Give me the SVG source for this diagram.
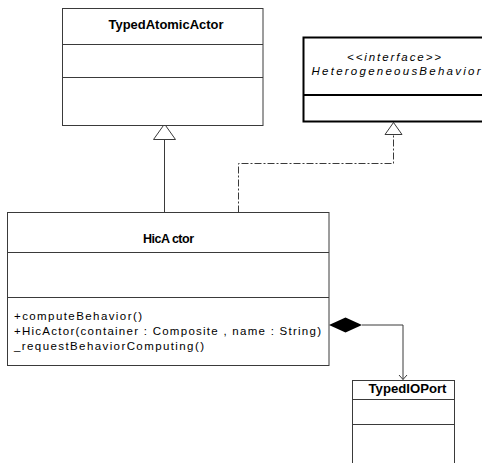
<svg xmlns="http://www.w3.org/2000/svg" width="482" height="463" viewBox="0 0 482 463">
  <style>
    .box { fill: #ffffff; stroke: #3a3a3a; stroke-width: 1; }
    .box-thick { fill: #ffffff; stroke: #000000; stroke-width: 2; }
    .sep { stroke: #3a3a3a; stroke-width: 1; fill: none; }
    .sep-thick { stroke: #000000; stroke-width: 2; fill: none; }
    .title { font-family: "Liberation Sans", Arial, sans-serif; font-size: 12.5px; font-weight: bold; fill: #000000; text-anchor: middle; }
    .stereo { font-family: "Liberation Sans", Arial, sans-serif; font-size: 11.5px; font-style: italic; fill: #000000; text-anchor: middle; }
    .member { font-family: "Liberation Sans", Arial, sans-serif; font-size: 11.5px; fill: #000000; }
    .edge { stroke: #3a3a3a; stroke-width: 1; fill: none; }
    .dashdot { stroke: #3a3a3a; stroke-width: 1; fill: none; stroke-dasharray: 7 2 2 2; }
    .hollow { fill: #ffffff; stroke: #3a3a3a; stroke-width: 1; }
  </style>

  <!-- Connectors -->
  <g id="connectors">
    <!-- HicActor extends TypedAtomicActor -->
    <g id="gen-hic-typedatomic">
      <line class="edge" x1="164.5" y1="139.5" x2="164.5" y2="212.5"/>
      <polygon class="hollow" points="164.5,124 153.5,139.5 175.5,139.5"/>
    </g>
    <!-- HicActor realizes HeterogeneousBehavior -->
    <g id="real-hic-hetero">
      <polyline class="dashdot" points="238.5,212.5 238.5,163.5 393.5,163.5 393.5,134.5"/>
      <polygon class="hollow" points="393.5,122.5 385,134.5 402,134.5"/>
    </g>
    <!-- HicActor composes TypedIOPort -->
    <g id="comp-hic-port">
      <polygon points="329,325 345.5,317.5 362,325 345.5,332.5" fill="#000000"/>
      <polyline class="edge" points="362,325 403,325 403,379.5"/>
      <polyline class="edge" points="399,375 403,379.5 407,375"/>
    </g>
  </g>

  <!-- TypedAtomicActor -->
  <g id="TypedAtomicActor">
    <rect class="box" x="62.5" y="8.5" width="200.5" height="117"/>
    <line class="sep" x1="62.5" y1="44.5" x2="263" y2="44.5"/>
    <line class="sep" x1="62.5" y1="77.5" x2="263" y2="77.5"/>
    <text class="title" x="166" y="29" textLength="115" lengthAdjust="spacingAndGlyphs">TypedAtomicActor</text>
  </g>

  <!-- HeterogeneousBehavior interface -->
  <g id="HeterogeneousBehavior">
    <rect class="box-thick" x="303.5" y="37.5" width="182" height="84"/>
    <line class="sep-thick" x1="303.5" y1="95" x2="485.5" y2="95"/>
    <text class="stereo" x="394" y="61" textLength="94" lengthAdjust="spacing">&lt;&lt;interface&gt;&gt;</text>
    <text class="stereo" x="396" y="75" textLength="169" lengthAdjust="spacing">HeterogeneousBehavior</text>
  </g>

  <!-- HicActor -->
  <g id="HicActor">
    <rect class="box" x="7.5" y="212.5" width="321.5" height="153"/>
    <line class="sep" x1="7.5" y1="252.5" x2="329" y2="252.5"/>
    <line class="sep" x1="7.5" y1="297.5" x2="329" y2="297.5"/>
    <text class="title" x="168.5" y="243" textLength="51" lengthAdjust="spacing">HicA ctor</text>
    <text class="member" x="14" y="320" textLength="128" lengthAdjust="spacing">+computeBehavior()</text>
    <text class="member" x="14" y="335" textLength="307" lengthAdjust="spacing">+HicActor(container : Composite , name : String)</text>
    <text class="member" x="14" y="350" textLength="190" lengthAdjust="spacing">_requestBehaviorComputing()</text>
  </g>

  <!-- TypedIOPort -->
  <g id="TypedIOPort">
    <rect class="box" x="352.5" y="380.5" width="102" height="95"/>
    <line class="sep" x1="352.5" y1="399.5" x2="454.5" y2="399.5"/>
    <line class="sep" x1="352.5" y1="424.5" x2="454.5" y2="424.5"/>
    <text class="title" x="407.5" y="393" textLength="78" lengthAdjust="spacingAndGlyphs">TypedIOPort</text>
  </g>
</svg>
